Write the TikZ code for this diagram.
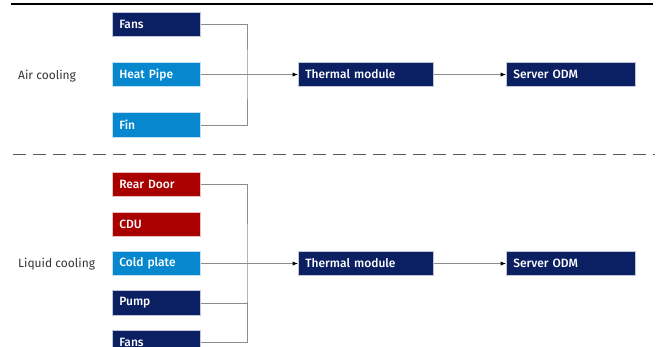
\documentclass[tikz,border=0pt]{standalone}
\usepackage{fontspec}
\setmainfont{Fira Sans}
\newfontfamily\boxfont{Fira Sans Medium}
\usetikzlibrary{arrows.meta}

\definecolor{navyblue}{HTML}{0B1F63}
\definecolor{skyblue}{HTML}{0788CE}
\definecolor{darkred}{HTML}{A90000}
\definecolor{linkgray}{HTML}{8C8C8C}

\tikzset{
  box/.style={draw=white!75!#1, line width=0.6pt, fill=#1, text=white,
    anchor=north west, minimum height=24.5, inner xsep=7pt, align=left,
    font=\boxfont\fontsize{12}{14}\selectfont},
  partbox/.style={box=#1, text width=74pt},
  stagebox/.style={box=navyblue, text width=#1},
  link/.style={draw=linkgray, line width=1pt},
  arrow/.style={link, -{Latex[length=5.5pt,width=4.5pt,color=black]}},
  side/.style={anchor=west, inner xsep=0pt, text=black!80, font=\fontsize{12}{14}\selectfont}
}

\begin{document}
\begin{tikzpicture}[x=1pt,y=-1pt]
\useasboundingbox (0,0) rectangle (657,347);
\draw[line width=2pt] (11,3.7) -- (653,3.7);
\draw[black!65, line width=1.4pt, dash pattern=on 13pt off 7pt] (13,154.5) -- (655,154.5);

% air cooling
\node[side] (airlabel) at (18,76) {Air cooling};
\node[partbox=navyblue] (fansA) at (112,12) {Fans};
\node[partbox=skyblue] (heatA) at (112,62) {Heat Pipe};
\node[partbox=skyblue] (finA) at (112,112.5) {Fin};
\node[stagebox=121pt] (thermA) at (298,62) {Thermal module};
\node[stagebox=115pt] (serverA) at (506,62) {Server ODM};
\coordinate (busA) at (247,74);
\draw[link] (fansA.east) -| (busA) |- (finA.east);
\draw[arrow] (heatA.east) -- (thermA.west);
\draw[arrow] (thermA.east) -- (serverA.west);

% liquid cooling
\node[side] (liquidlabel) at (18,264) {Liquid cooling};
\node[partbox=darkred] (rearB) at (112,172) {Rear Door};
\node[partbox=darkred] (cduB) at (112,212) {CDU};
\node[partbox=skyblue] (coldB) at (112,251) {Cold plate};
\node[partbox=navyblue] (pumpB) at (112,290.5) {Pump};
\node[partbox=navyblue] (fansB) at (112,330) {Fans};
\node[stagebox=121pt] (thermB) at (298,251) {Thermal module};
\node[stagebox=115pt] (serverB) at (506,251) {Server ODM};
\coordinate (busB) at (247,263);
\draw[link] (rearB.east) -| (busB) |- (fansB.east);
\draw[link] (pumpB.east) -- (pumpB.east -| busB);
\draw[arrow] (coldB.east) -- (thermB.west);
\draw[arrow] (thermB.east) -- (serverB.west);
\end{tikzpicture}
\end{document}
